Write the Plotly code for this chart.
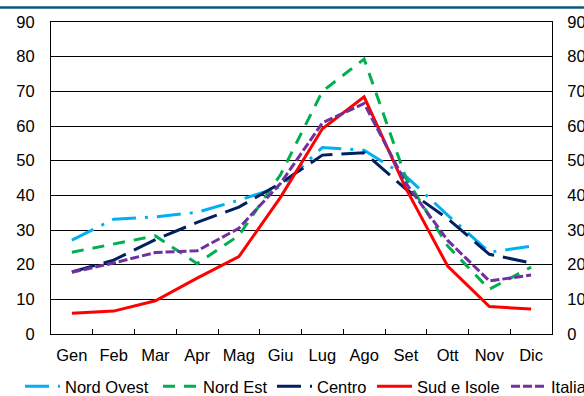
import plotly.graph_objects as go

# Monthly index by macro-area (0-90 scale)
months = ["Gen", "Feb", "Mar", "Apr", "Mag", "Giu", "Lug", "Ago", "Set", "Ott", "Nov", "Dic"]

nord_ovest = [27.1, 33.1, 33.8, 35.1, 38.6, 42.5, 53.8, 53.0, 45.5, 34.3, 23.6, 25.3]
nord_est = [23.6, 26.0, 28.3, 20.3, 28.4, 46.0, 70.0, 79.3, 45.0, 25.4, 12.9, 19.3]
centro = [17.9, 21.3, 27.2, 32.2, 36.6, 43.5, 51.6, 52.3, 41.8, 33.3, 23.0, 20.5]
sud_isole = [6.0, 6.6, 9.6, 16.1, 22.3, 39.5, 59.2, 68.4, 42.0, 19.6, 7.9, 7.2]
italia = [17.8, 20.5, 23.5, 24.0, 30.5, 43.5, 60.9, 66.5, 43.5, 27.0, 15.3, 17.0]

y_ticks = [0, 10, 20, 30, 40, 50, 60, 70, 80, 90]

series = [
    ("Nord Ovest", nord_ovest, "#00B0F0", "24px,9px,3px,9px"),
    ("Nord Est", nord_est, "#00B050", "12px,9px"),
    ("Centro", centro, "#002060", "24px,9px"),
    ("Sud e Isole", sud_isole, "#FF0000", "solid"),
    ("Italia", italia, "#7030A0", "9px,3px"),
]

W, H = 584, 396
L, R, T, B = 51, 32, 22, 62
FONT = "Liberation Sans, Arial, sans-serif"
FS = 16.5

# left edge (px) of each legend entry along the bottom row
legend_left = [20, 158, 272, 372, 506]
legend_top = 369

axis_font = dict(family=FONT, size=FS, color="#000000")

fig = go.Figure()
legend_layout = {}
for i, (name, vals, color, dash) in enumerate(series):
    key = "legend" if i == 0 else f"legend{i + 1}"
    fig.add_trace(go.Scatter(
        x=months, y=vals, name=name, mode="lines",
        line=dict(color=color, width=3, dash=dash),
        legend=key,
    ))
    legend_layout[key] = dict(
        orientation="h", xref="container", yref="container",
        x=legend_left[i] / W, xanchor="left",
        y=1 - legend_top / H, yanchor="top",
        font=axis_font, itemwidth=35, bgcolor="rgba(0,0,0,0)",
        borderwidth=0,
    )

# companion trace that carries the right-hand value axis
fig.add_trace(go.Scatter(
    x=months, y=italia, yaxis="y2", mode="lines",
    line=dict(width=0, color="rgba(0,0,0,0)"),
    showlegend=False, hoverinfo="skip",
))

fig.update_layout(
    width=W, height=H,
    margin=dict(l=L, r=R, t=T, b=B, autoexpand=False),
    paper_bgcolor="white", plot_bgcolor="white",
    font=axis_font,
    xaxis=dict(
        type="category", categoryorder="array", categoryarray=months,
        showline=True, linecolor="black", linewidth=1, mirror=True,
        ticks="inside", ticklen=5, tickcolor="black", tickson="boundaries",
        showgrid=False, tickfont=axis_font, ticklabelstandoff=6,
        range=[-0.5, 11.5],
    ),
    yaxis=dict(
        range=[0, 90], tickvals=y_ticks,
        showline=True, linecolor="black", linewidth=1, mirror=True,
        showgrid=True, gridcolor="#000000", gridwidth=1,
        ticks="", tickfont=axis_font, ticklabelstandoff=12,
        zeroline=False,
    ),
    yaxis2=dict(
        range=[0, 90], tickvals=y_ticks, overlaying="y", side="right",
        showgrid=False, showline=False, zeroline=False,
        ticks="outside", ticklen=11, tickcolor="rgba(0,0,0,0)",
        tickfont=axis_font,
    ),
    showlegend=True,
    **legend_layout,
)

# thin header rule across the top of the figure
ph = H - T - B
pw = W - L - R
fig.add_shape(
    type="line", xref="paper", yref="paper",
    x0=-L / pw, x1=(W - L) / pw,
    y0=1 + (T - 7.5) / ph, y1=1 + (T - 7.5) / ph,
    line=dict(color="#0B5A7C", width=2.5),
)

fig.write_html("out.html")
